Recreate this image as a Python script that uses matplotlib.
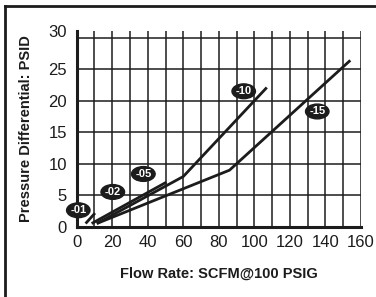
import numpy as np
import matplotlib.pyplot as plt
from matplotlib.lines import Line2D

plt.rcParams['font.family'] = ['Liberation Sans', 'DejaVu Sans']

# flow (SCFM@100 PSIG) vs pressure differential (PSID)
flow_01 = [5, 10.3]
dp_01 = [0.55, 2.2]
flow_02 = [8.4, 50.5]
dp_02 = [0.55, 7.1]
flow_10 = [11.3, 60, 107]
dp_10 = [0.55, 8.0, 22.1]
flow_15 = [11.3, 86, 154]
dp_15 = [0.55, 9.0, 26.4]

tag_text = ['-01', '-02', '-05', '-10', '-15']
tag_x = [0.9, 20.3, 37.5, 94, 135.4]
tag_y = [2.65, 5.55, 8.4, 21.5, 18.3]

xticks = np.arange(0, 161, 20)
ygrid = np.arange(0, 31, 5)
ytick_labels = ['0', '5', '10', '15', '20', '25', '30']

ink = '#1c1c1c'

fig = plt.figure(figsize=(3.76, 2.97), dpi=100)
ax = fig.add_axes([0.204, 0.2357, 0.756, 0.661])

ax.set_xlim(0, 160)
ax.set_ylim(0, 31.1)

# grid
for gx in np.arange(10, 161, 10):
    ax.axvline(gx, color=ink, lw=1.1, zorder=1)
for gy in ygrid[1:]:
    ax.axhline(gy, color=ink, lw=1.1, zorder=1)

for fx, fy in [(flow_01, dp_01), (flow_02, dp_02), (flow_10, dp_10), (flow_15, dp_15)]:
    ax.plot(fx, fy, color=ink, lw=2.0, solid_capstyle='butt', zorder=3)

for t, tx, ty in zip(tag_text, tag_x, tag_y):
    ax.text(tx, ty, t, color='white', fontsize=8, fontweight='bold',
            ha='center', va='center', zorder=5, clip_on=False,
            bbox=dict(boxstyle='ellipse,pad=0.02', fc=ink, ec=ink))

for s in ['top', 'right']:
    ax.spines[s].set_visible(False)
for s in ['left', 'bottom']:
    ax.spines[s].set_linewidth(2.2)
    ax.spines[s].set_color(ink)

ax.set_xticks(xticks)
ax.set_yticks(list(ygrid[:-1]) + [31.1])
ax.set_yticklabels(ytick_labels)
ax.tick_params(length=0, labelsize=12, colors=ink)
ax.tick_params(axis='x', pad=6)
ax.tick_params(axis='y', pad=7)

ax.set_xlabel('Flow Rate: SCFM@100 PSIG', fontsize=10.5, fontweight='bold',
              color=ink, labelpad=12)
fig.text(0.068, 0.567, 'Pressure Differential: PSID', rotation=90,
         fontsize=10.5, fontweight='bold', color=ink, ha='center', va='center')

# frame around figure (left and top edges)
fig.add_artist(Line2D([0.0145, 0.0145], [0, 0.98], transform=fig.transFigure,
                      color=ink, lw=2.0))
fig.add_artist(Line2D([0.0145, 1.0], [0.98, 0.98], transform=fig.transFigure,
                      color=ink, lw=2.0))

fig.savefig('out.png', dpi=100)
